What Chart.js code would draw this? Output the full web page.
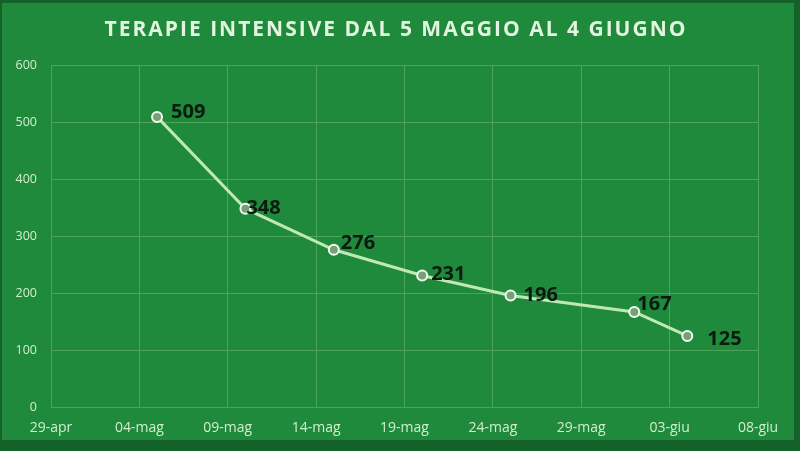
<!DOCTYPE html>
<html>
<head>
<meta charset="utf-8">
<script src="https://cdn.jsdelivr.net/npm/chart.js@4.4.1/dist/chart.umd.min.js"></script>
<style>
  html, body { margin: 0; padding: 0; background: #14622a; }
  #wrap { position: relative; width: 800px; height: 451px; }
  canvas { display: block; }
</style>
</head>
<body>
<div id="wrap"><canvas id="c" width="800" height="451"></canvas></div>
<script>
// ---- data ----
const startDate = '2020-04-29';
const dates = ['2020-05-05', '2020-05-10', '2020-05-15', '2020-05-20', '2020-05-25', '2020-06-01', '2020-06-04'];
const values = [509, 348, 276, 231, 196, 167, 125];
const xTickLabels = ['29-apr', '04-mag', '09-mag', '14-mag', '19-mag', '24-mag', '29-mag', '03-giu', '08-giu'];
const yTickValues = [0, 100, 200, 300, 400, 500, 600];
const titleText = 'TERAPIE INTENSIVE DAL 5 MAGGIO AL 4 GIUGNO';

const DAY = 86400000;
const t0 = Date.parse(startDate + 'T00:00:00Z');
const points = dates.map((d, i) => ({ x: Math.round((Date.parse(d + 'T00:00:00Z') - t0) / DAY), y: values[i] }));

// label nudges (style only, px)
const labelNudge = [[14, -5], [1, 0], [7, -6], [9, -1], [13, 0], [3, -8], [20, 3]];

const bgPlugin = {
  id: 'bg',
  beforeDraw(chart) {
    const ctx = chart.ctx;
    ctx.save();
    ctx.fillStyle = '#14622a';
    ctx.fillRect(0, 0, chart.width, chart.height);
    ctx.fillStyle = '#1f8a3c';
    ctx.fillRect(2, 3, 792, 437);
    ctx.restore();
  }
};

const titlePlugin = {
  id: 'spacedTitle',
  afterDraw(chart) {
    const ctx = chart.ctx;
    ctx.save();
    ctx.font = 'bold 21px "Open Sans", sans-serif';
    if ('letterSpacing' in ctx) ctx.letterSpacing = '2px';
    ctx.fillStyle = '#e4f5df';
    ctx.textAlign = 'center';
    ctx.textBaseline = 'middle';
    ctx.fillText(titleText, 396, 30);
    ctx.restore();
  }
};

const labelPlugin = {
  id: 'vlabels',
  afterDatasetsDraw(chart) {
    const ctx = chart.ctx;
    const meta = chart.getDatasetMeta(0);
    ctx.save();
    ctx.font = 'bold 20px "Open Sans", sans-serif';
    ctx.fillStyle = '#0b1a0e';
    ctx.textAlign = 'left';
    ctx.textBaseline = 'middle';
    meta.data.forEach((el, i) => {
      const n = labelNudge[i] || [10, 0];
      ctx.fillText(String(values[i]), el.x + n[0], el.y + n[1]);
    });
    ctx.restore();
  }
};

new Chart(document.getElementById('c'), {
  type: 'scatter',
  data: {
    datasets: [{
      data: points,
      showLine: true,
      borderColor: '#bfe8b4',
      borderWidth: 3,
      pointRadius: 5,
      pointBorderWidth: 2,
      pointBorderColor: '#f2fbef',
      pointBackgroundColor: '#74a276'
    }]
  },
  options: {
    responsive: false,
    animation: false,
    layout: { padding: { left: 0, right: 42, top: 65, bottom: 3 } },
    plugins: {
      legend: { display: false },
      tooltip: { enabled: false },
      title: { display: false }
    },
    scales: {
      x: {
        type: 'linear',
        min: 0,
        max: 40,
        ticks: {
          stepSize: 5,
          color: '#d2eecd',
          font: { family: '"Open Sans", sans-serif', size: 14 },
          maxRotation: 0,
          padding: 12,
          callback: (v) => xTickLabels[Math.round(v / 5)] || ''
        },
        grid: { color: '#4ea45c', lineWidth: 1, drawTicks: false },
        border: { color: '#4ea45c' }
      },
      y: {
        min: 0,
        max: 600,
        afterBuildTicks: (s) => { s.ticks = yTickValues.map(v => ({ value: v })); },
        afterFit: (s) => { s.width = 51; },
        ticks: {
          color: '#d2eecd',
          font: { family: '"Open Sans", sans-serif', size: 12.5 },
          padding: 14
        },
        grid: { color: '#4ea45c', lineWidth: 1, drawTicks: false },
        border: { display: false }
      }
    }
  },
  plugins: [bgPlugin, labelPlugin, titlePlugin]
});
</script>
</body>
</html>
